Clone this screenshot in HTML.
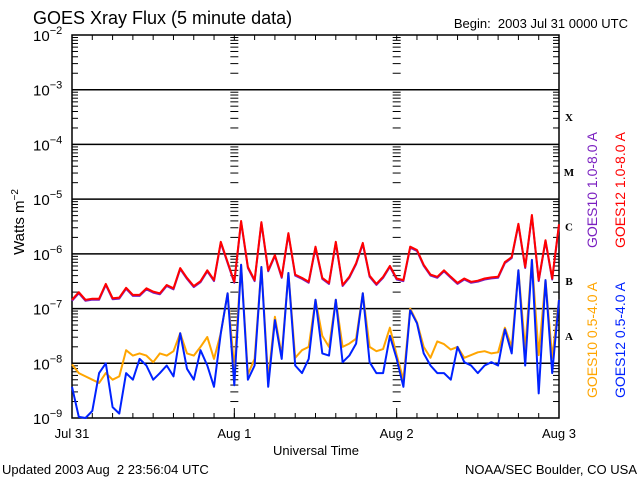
<!DOCTYPE html>
<html><head><meta charset="utf-8"><style>
body{margin:0;background:#fff;}
svg{display:block;font-family:"Liberation Sans",sans-serif;}
</style></head><body>
<svg id="chart" width="640" height="480" viewBox="0 0 640 480" xmlns="http://www.w3.org/2000/svg">
<rect x="0" y="0" width="640" height="480" fill="#fff"/>
<text x="33" y="24" font-size="18" fill="#000">GOES Xray Flux (5 minute data)</text>
<text x="628" y="28" font-size="13" text-anchor="end" fill="#000" xml:space="preserve">Begin:  2003 Jul 31 0000 UTC</text>
<text x="2" y="474" font-size="13" fill="#000" xml:space="preserve">Updated 2003 Aug  2 23:56:04 UTC</text>
<text x="637" y="474" font-size="13" text-anchor="end" fill="#000">NOAA/SEC Boulder, CO USA</text>
<text x="316" y="455" font-size="13" text-anchor="middle" fill="#000">Universal Time</text>
<text transform="translate(24,222) rotate(-90)" font-size="15" text-anchor="middle" fill="#000">Watts m<tspan font-size="10" dy="-6">−2</tspan></text>
<g id="plot"></g>
<text transform="translate(597,190) rotate(-90)" font-size="14" text-anchor="middle" fill="#7a1fc0">GOES10 1.0-8.0 A</text>
<text transform="translate(625,190) rotate(-90)" font-size="14" text-anchor="middle" fill="#ff0000">GOES12 1.0-8.0 A</text>
<text transform="translate(597,340) rotate(-90)" font-size="14" text-anchor="middle" fill="#ffa500">GOES10 0.5-4.0 A</text>
<text transform="translate(625,340) rotate(-90)" font-size="14" text-anchor="middle" fill="#0022ff">GOES12 0.5-4.0 A</text>
</svg>
<script>
// hourly log10(flux) values, Jul 31 00:00 to Aug 3 00:00
const hours = Array.from({length:73},(_,i)=>i);
const goes12Long = [-6.84,-6.70,-6.84,-6.82,-6.82,-6.55,-6.81,-6.80,-6.62,-6.75,-6.75,-6.63,-6.69,-6.72,-6.57,-6.63,-6.26,-6.44,-6.59,-6.50,-6.30,-6.48,-5.78,-6.15,
-6.51,-5.40,-6.24,-6.48,-5.42,-6.30,-6.02,-6.42,-5.62,-6.38,-6.44,-6.51,-5.87,-6.44,-6.53,-5.78,-6.57,-6.42,-6.17,-5.80,-6.40,-6.55,-6.42,-6.22,
-6.45,-6.48,-5.87,-5.93,-6.20,-6.38,-6.42,-6.30,-6.42,-6.53,-6.45,-6.51,-6.49,-6.45,-6.43,-6.42,-6.15,-6.06,-5.45,-6.24,-5.29,-6.48,-5.75,-6.45,-5.46];
const goes10Short = [-8.02,-8.18,-8.24,-8.30,-8.36,-8.18,-8.30,-8.24,-7.76,-7.86,-7.82,-7.86,-7.98,-7.82,-7.86,-7.78,-7.45,-7.82,-7.86,-7.70,-7.52,-7.92,-7.45,-6.72,
-8.10,-6.20,-8.20,-7.92,-6.24,-8.30,-7.15,-7.85,-6.35,-7.90,-7.76,-7.70,-6.84,-7.50,-7.70,-6.84,-7.70,-7.64,-7.55,-6.72,-7.70,-7.78,-7.74,-7.35,
-7.85,-8.30,-7.00,-7.25,-7.70,-7.90,-7.60,-7.65,-7.75,-7.70,-7.90,-7.85,-7.80,-7.78,-7.82,-7.80,-7.35,-7.70,-6.30,-7.75,-6.11,-7.85,-6.48,-7.90,-6.84];
const goes12Short = [-8.43,-8.98,-9.00,-8.87,-8.18,-8.00,-8.80,-8.92,-8.18,-8.30,-7.92,-8.04,-8.30,-8.18,-8.04,-8.24,-7.45,-8.10,-8.30,-7.76,-8.04,-8.43,-7.45,-6.72,
-8.40,-6.20,-8.30,-8.04,-6.24,-8.43,-7.21,-7.92,-6.35,-8.04,-8.18,-7.92,-6.84,-7.82,-7.86,-6.84,-7.98,-7.86,-7.64,-6.72,-7.98,-8.18,-8.18,-7.50,
-7.92,-8.43,-7.03,-7.27,-7.82,-8.04,-8.18,-8.18,-8.30,-7.70,-7.98,-8.04,-8.18,-8.04,-7.98,-8.04,-7.38,-7.82,-6.30,-8.04,-6.11,-8.55,-6.48,-8.18,-6.84];
const decades = [-2,-3,-4,-5,-6,-7,-8,-9];
const dayLabels = ["Jul 31","Aug 1","Aug 2","Aug 3"];
const classLabels = [["X",-3.5],["M",-4.5],["C",-5.5],["B",-6.5],["A",-7.5]];

const X0=72,X1=559,Y0=35,Y1=418;
const xs=h=>X0+(X1-X0)*h/72;
const ys=l=>{const v=Math.max(-9,Math.min(-2,l));return Y0+(-2-v)*(Y1-Y0)/7;};
const NS="http://www.w3.org/2000/svg";
const plot=document.getElementById('plot');
function mk(tag,attrs){const e=document.createElementNS(NS,tag);for(const k in attrs)e.setAttribute(k,attrs[k]);plot.appendChild(e);return e;}

const frame=mk('rect',{x:X0,y:Y0,width:X1-X0,height:Y1-Y0,fill:'none',stroke:'#000','stroke-width':1.5});


decades.forEach(d=>{
  const y=ys(d);
  if(d>-9&&d<-2){const g=mk('line',{x1:X0,x2:X1,y1:y,y2:y,stroke:'#000','stroke-width':1.5});
    
    }
  const t=mk('text',{x:33,y:y+6,'font-size':15,fill:'#000'});
  
  
  t.innerHTML='10<tspan font-size="11" dy="-7">−'+(-d)+'</tspan>';
  if(d>-9){for(let m=2;m<=9;m++){
    const yy=ys(d-1+Math.log10(m));
    [[X0,X0+6],[X1-6,X1],[xs(24)-4,xs(24)+4],[xs(48)-4,xs(48)+4]].forEach(p=>{
      const tk=mk('line',{x1:p[0],x2:p[1],y1:yy,y2:yy,stroke:'#000','stroke-width':1});
      
      
    });
  }}
});
for(let h=0;h<=72;h+=3){
  const x=xs(h);
  const a=mk('line',{x1:x,x2:x,y1:Y1,y2:Y1-5,stroke:'#000','stroke-width':1});
  
  
  const b=mk('line',{x1:x,x2:x,y1:Y0,y2:Y0+5,stroke:'#000','stroke-width':1});
  
  
}
[24,48].forEach(h=>{
  const l=mk('line',{x1:xs(h),x2:xs(h),y1:Y1,y2:Y1-10,stroke:'#000','stroke-width':1});
  
  
});
dayLabels.forEach((s,i)=>{
  const t=mk('text',{x:xs(i*24),y:438,'font-size':13,'text-anchor':'middle',fill:'#000'});
  
  
  t.textContent=s;
});
classLabels.forEach(c=>{
  const t=mk('text',{x:569,y:ys(c[1])+4,'font-size':11,'font-weight':'bold','text-anchor':'middle',fill:'#000','font-family':'Liberation Serif,serif'});
  
  
  t.textContent=c[0];
});
function path(arr,color,dy,name){
  let d='';
  arr.forEach((v,i)=>{const x=xs(hours[i]),y=ys(v)+dy;
    d+=(i===0?'M':' L')+x.toFixed(1)+' '+y.toFixed(1);});
  const p=mk('path',{d:d,fill:'none',stroke:color,'stroke-width':2,'stroke-linejoin':'round'});
  
  
}
path(goes12Long,'#7a1fc0',1,'goes10-long-series');
path(goes12Long,'#ff0000',0,'goes12-long-series');
path(goes10Short,'#ffa500',0,'goes10-short-series');
path(goes12Short,'#0022ff',0,'goes12-short-series');
</script>
</body></html>
